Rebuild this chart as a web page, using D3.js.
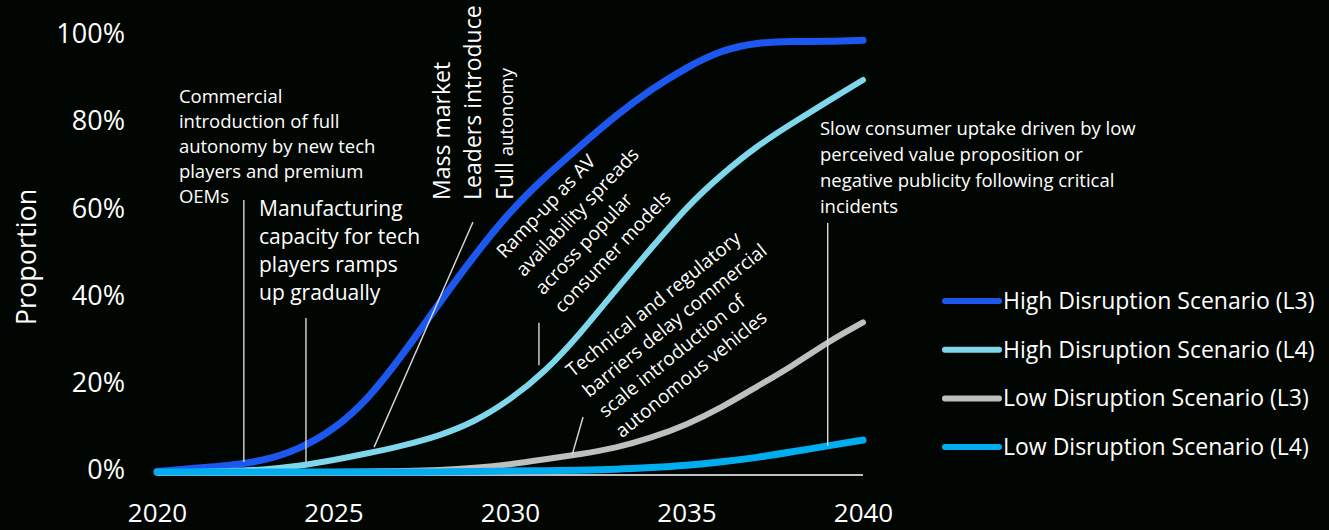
<!DOCTYPE html>
<html>
<head>
<meta charset="utf-8">
<script src="https://cdn.jsdelivr.net/npm/d3@7"></script>
<style>
  html, body { margin: 0; padding: 0; background: #020602; }
  svg { display: block; }
  text { font-family: "Open Sans", "Noto Sans", sans-serif; fill: #ffffff; }
</style>
</head>
<body>
<svg id="chart" width="1329" height="530"></svg>
<script>
// ---------------- data ----------------
const years = [2020,2021,2022,2023,2024,2025,2026,2027,2028,2029,2030,2031,2032,2033,2034,2035,2036,2037,2038,2039,2040];
const highL3 = [0.8,1.5,2.1,3.2,5.8,10.3,17.5,28,39.5,50.5,60.5,68.5,75.5,82.5,88.5,93.5,97.5,99.2,99.5,99.4,99.7];
const highL4 = [0.6,0.7,0.9,1.2,2.0,3.4,5.0,6.8,9.0,12.2,17.2,23.7,32.5,42.5,52,61.5,69,75.5,80.7,85.7,90.6];
const lowL3  = [0.6,0.6,0.6,0.6,0.7,0.7,0.8,0.9,1.1,1.6,2.4,3.6,4.8,6.2,8.5,11.5,15.5,20.3,25,30.5,35];
const lowL4  = [0.7,0.7,0.7,0.7,0.7,0.7,0.7,0.7,0.7,0.8,0.9,1.0,1.1,1.3,1.7,2.2,3.0,4.0,5.3,6.7,8];
const seriesNames = ["High Disruption Scenario (L3)","High Disruption Scenario (L4)","Low Disruption Scenario (L3)","Low Disruption Scenario (L4)"];
const seriesColors = ["#1c58f0","#7fd7ec","#bfbfbf","#00aeef"];
const xTicks = [2020,2025,2030,2035,2040];
const yTicks = [0,20,40,60,80,100];
const yTitle = "Proportion";

// annotations (positions in data units: year / percent)
const annoLeaders = [
  {x1:2022.46, y1:63.1, x2:2022.46, y2:3.0},
  {x1:2024.22, y1:36.0, x2:2024.22, y2:3.0},
  {x1:2028.95, y1:58.0, x2:2026.15, y2:6.4},
  {x1:2030.82, y1:34.9, x2:2030.82, y2:25.2},
  {x1:2032.07, y1:13.3, x2:2031.76, y2:4.6},
  {x1:2039.0,  y1:57.8, x2:2039.0,  y2:6.7}
];
const annoFlat = [
  {x:2020.62, y:86.9, size:18.5, lh:25, lines:["Commercial","introduction of full","autonomy by new tech","players and premium","OEMs"]},
  {x:2022.89, y:61.2, size:21, lh:28, lines:["Manufacturing","capacity for tech","players ramps","up gradually"]},
  {x:2038.78, y:79.4, size:18.5, lh:26, lines:["Slow consumer uptake driven by low","perceived value proposition or","negative publicity following critical","incidents"]}
];
const annoAngled = [
  {x:2029.85, y:49.5, angle:-46.5, size:19, lh:26.6, lines:["Ramp-up as AV","availability spreads","across popular","consumer models"]},
  {x:2031.78, y:22.3, angle:-39, size:19, lh:26, lines:["Technical and regulatory","barriers delay commercial","scale introduction of","autonomous vehicles"]}
];
const annoVertical = {x:2028.3, y:63.1, lh:31.5, lines:[[["Mass market",23]],[["Leaders introduce",23]],[["Full ",23],["autonomy",18.5]]]};

// ---------------- scales ----------------
const svg = d3.select("#chart");
const x = d3.scaleLinear().domain([2020,2040]).range([157,863]);
const y = d3.scaleLinear().domain([0,100]).range([475,39]);

// axis baseline
svg.append("line")
  .attr("x1", x(2020)).attr("x2", x(2040))
  .attr("y1", y(0)).attr("y2", y(0))
  .attr("stroke", "#bfbfbf").attr("stroke-width", 2);

// x tick labels via axis
const xAxis = d3.axisBottom(x).tickValues(xTicks).tickFormat(d3.format("d")).tickSize(0).tickPadding(0);
const gx = svg.append("g").attr("transform", `translate(0,${y(0)})`).call(xAxis);
gx.select(".domain").remove();
gx.selectAll("text").attr("y", 47).attr("dy", 0).style("font-size","26px").attr("fill","#fff")
  .style("font-family",'"Open Sans", sans-serif');

// y tick labels via axis
const yAxis = d3.axisLeft(y).tickValues(yTicks).tickFormat(d => d + "%").tickSize(0).tickPadding(0);
const gy = svg.append("g").attr("transform", `translate(125,0)`).call(yAxis);
gy.select(".domain").remove();
gy.selectAll("text").attr("x", 0).attr("y", -5).style("font-size","27px").attr("fill","#fff")
  .style("font-family",'"Open Sans", sans-serif');

// y title
svg.append("text")
  .attr("transform", `translate(36,${(y(0)+y(100))/2}) rotate(-90)`)
  .attr("text-anchor","middle")
  .style("font-size","27px")
  .text(yTitle);

// ---------------- series ----------------
const allSeries = [highL3, highL4, lowL3, lowL4];
const widths = [7, 6, 6, 7];
const line = d3.line().x((d,i) => x(years[i])).y(d => y(d)).curve(d3.curveBasis);
allSeries.forEach((vals, k) => {
  svg.append("path")
    .datum(vals)
    .attr("d", line)
    .attr("fill","none")
    .attr("stroke", seriesColors[k])
    .attr("stroke-width", widths[k])
    .attr("stroke-linecap","round")
    .attr("stroke-linejoin","round");
});

// ---------------- annotations ----------------
svg.selectAll(".leader").data(annoLeaders).enter().append("line")
  .attr("class","leader")
  .attr("x1", d => x(d.x1)).attr("y1", d => y(d.y1))
  .attr("x2", d => x(d.x2)).attr("y2", d => y(d.y2))
  .attr("stroke","#d9d9d9").attr("stroke-width",1.4);

annoFlat.forEach(a => {
  const t = svg.append("text")
    .attr("transform", `translate(${x(a.x)},${y(a.y)})`)
    .style("font-size", a.size + "px");
  a.lines.forEach((l, i) => {
    t.append("tspan").attr("x", 0).attr("y", i * a.lh).attr("dy", "0.35em").text(l);
  });
});

annoAngled.forEach(a => {
  const t = svg.append("text")
    .attr("transform", `translate(${x(a.x)},${y(a.y)}) rotate(${a.angle})`)
    .style("font-size", a.size + "px");
  a.lines.forEach((l, i) => {
    t.append("tspan").attr("x", 0).attr("y", i * a.lh).text(l);
  });
});

annoVertical.lines.forEach((parts, i) => {
  const t = svg.append("text")
    .attr("transform", `translate(${x(annoVertical.x) + i * annoVertical.lh},${y(annoVertical.y)}) rotate(-90)`);
  parts.forEach(p => {
    t.append("tspan").style("font-size", p[1] + "px").text(p[0]);
  });
});

// ---------------- legend ----------------
const legend = svg.append("g").attr("transform","translate(945,301)");
const rows = legend.selectAll("g").data(seriesNames).enter().append("g")
  .attr("transform", (d,i) => `translate(0,${i*48.7})`);
rows.append("line").attr("x1",0).attr("x2",54).attr("y1",0).attr("y2",0)
  .attr("stroke", (d,i) => seriesColors[i]).attr("stroke-width",6).attr("stroke-linecap","round");
rows.append("text").attr("x",58).attr("dy","0.35em").style("font-size","23px").text(d => d);
</script>
</body>
</html>
